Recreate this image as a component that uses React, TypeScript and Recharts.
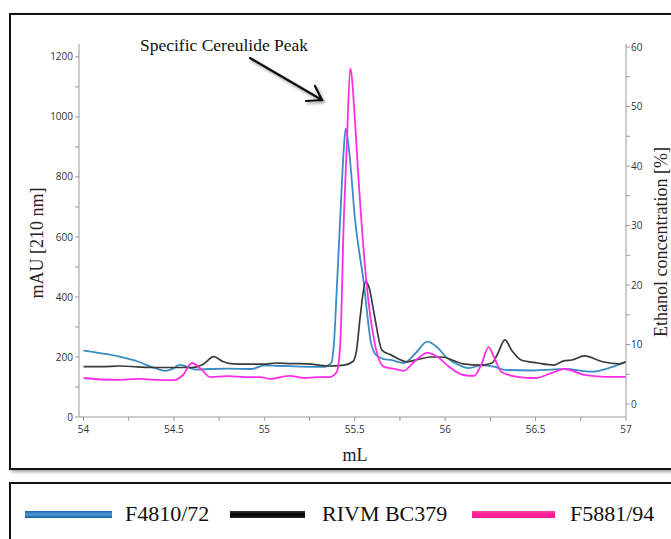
import React from "react"
import {
  LineChart,
  Line,
  XAxis,
  YAxis,
} from "recharts"

// F4810/72 (blue)
const blueMl = [
  54.0, 54.1, 54.2, 54.3, 54.35, 54.4, 54.45, 54.5, 54.53, 54.57, 54.62, 54.7, 54.8, 54.93, 55.0,
  55.1, 55.2, 55.33, 55.37, 55.385, 55.4, 55.42, 55.44, 55.45, 55.47, 55.5, 55.55, 55.59, 55.62,
  55.66, 55.7, 55.77, 55.84, 55.9, 55.96, 56.01, 56.07, 56.13, 56.2, 56.27, 56.33, 56.48, 56.58,
  56.66, 56.81, 56.92, 57.0,
]
const blueMau = [
  221, 212, 201, 185, 173, 162, 154, 163, 174, 168, 158, 160, 161, 160, 172,
  170, 168, 167, 180, 247, 420, 668, 900, 962, 880, 668, 446, 247, 205,
  193, 190, 180, 215, 251, 230, 197, 175, 163, 172, 168, 157, 155, 158,
  160, 151, 166, 184,
]

// RIVM BC379 (black)
const blackMl = [
  54.0, 54.1, 54.2, 54.3, 54.4, 54.5, 54.6, 54.66, 54.72, 54.77, 54.83, 54.9, 55.0, 55.06, 55.15,
  55.24, 55.35, 55.44, 55.49, 55.51, 55.53, 55.56, 55.58, 55.61, 55.65, 55.7, 55.79, 55.85, 55.92,
  55.98, 56.1, 56.2, 56.26, 56.29, 56.33, 56.37, 56.42, 56.51, 56.6, 56.66, 56.7, 56.77, 56.87,
  56.96, 57.0,
]
const blackMau = [
  168, 168, 170, 167, 165, 165, 165, 175, 201, 185, 177, 176, 176, 180, 178,
  177, 170, 173, 185, 223, 334, 451, 430, 334, 223, 207, 184, 192, 200,
  200, 177, 173, 180, 210, 257, 220, 190, 180, 173, 188, 190, 204, 184,
  177, 184,
]

// F5881/94 (pink)
const pinkMl = [
  54.0, 54.1, 54.2, 54.3, 54.4, 54.5, 54.55, 54.6, 54.65, 54.7, 54.8, 54.9, 54.98, 55.03, 55.14,
  55.22, 55.29, 55.36, 55.4, 55.42, 55.44, 55.455, 55.475, 55.5, 55.52, 55.535, 55.565, 55.61,
  55.66, 55.72, 55.77, 55.83, 55.9, 55.96, 56.01, 56.1, 56.16, 56.2, 56.24, 56.27, 56.31, 56.4,
  56.5, 56.59, 56.66, 56.77, 56.88, 57.0,
]
const pinkMau = [
  130, 125, 124, 127, 124, 123, 140, 180, 160, 133, 136, 133, 133, 127, 137,
  130, 133, 133, 150, 247, 668, 890, 1162, 1000, 800, 668, 446, 247,
  168, 160, 154, 185, 214, 200, 173, 140, 137, 175, 233, 200, 151, 134,
  130, 147, 160, 140, 134, 134,
]

const xTicks = [54, 54.25, 54.5, 54.75, 55, 55.25, 55.5, 55.75, 56, 56.25, 56.5, 56.75, 57]
const leftTicks = [0, 100, 200, 300, 400, 500, 600, 700, 800, 900, 1000, 1100, 1200]
const rightTicks = [0, 5, 10, 15, 20, 25, 30, 35, 40, 45, 50, 55, 60]

const seriesNames = ["F4810/72", "RIVM BC379", "F5881/94"]
const lineColors = ["#3a8cc5", "#3a3a3a", "#ff2ee6"]

const toPoints = (xs: number[], ys: number[]) => xs.map((x, i) => ({ x, y: ys[i] }))

const blueData = toPoints(blueMl, blueMau)
const blackData = toPoints(blackMl, blackMau)
const pinkData = toPoints(pinkMl, pinkMau)

const serif = "'Liberation Serif', 'DejaVu Serif', serif"
const tickStyle = { fontSize: 10, fill: "#333", fontFamily: "'Open Sans', sans-serif" }
const axisColor = "#9a9a9a"

const legendBars = [
  "linear-gradient(#2566a8, #4a9ad8 50%, #1d5c9c)",
  "linear-gradient(#333, #000 50%, #222)",
  "linear-gradient(#ff4aa8, #ff1a90 50%, #f0208e)",
]

export default function App() {
  return (
    <div
      style={{
        position: "absolute",
        left: 0,
        top: 0,
        width: 671,
        height: 539,
        overflow: "hidden",
        background: "#fff",
      }}
    >
      {/* chart frame */}
      <div
        style={{
          position: "absolute",
          left: 9,
          top: 13,
          width: 720,
          height: 457,
          boxSizing: "border-box",
          border: "2px solid #111",
          boxShadow: "2px 2px 3px rgba(0,0,0,0.35)",
        }}
      />

      <div style={{ position: "absolute", left: 0, top: 0 }}>
        <LineChart
          width={671}
          height={539}
          margin={{ top: 44, right: 0, bottom: 92, left: 0 }}
        >
          <XAxis
            type="number"
            dataKey="x"
            domain={[53.975, 57]}
            allowDataOverflow
            ticks={xTicks}
            interval={0}
            tickFormatter={(v: number) => (Math.round(v * 100) % 50 === 0 ? String(v) : "")}
            tick={tickStyle}
            tickSize={4}
            tickMargin={5}
            stroke={axisColor}
            height={30}
            label={{
              content: () => (
                <text x={355} y={455} textAnchor="middle" dominantBaseline="central"
                  style={{ fontFamily: serif, fontSize: 18, fill: "#222" }}>
                  mL
                </text>
              ),
            }}
          />
          <YAxis
            yAxisId="left"
            orientation="left"
            type="number"
            domain={[0, 1243]}
            allowDataOverflow
            ticks={leftTicks}
            interval={0}
            tickFormatter={(v: number) => (v % 200 === 0 ? String(v) : "")}
            tick={tickStyle}
            tickSize={4}
            tickMargin={2}
            stroke={axisColor}
            width={79}
            label={{
              content: () => (
                <text x={37} y={243} transform="rotate(-90 37 243)" textAnchor="middle"
                  dominantBaseline="central" style={{ fontFamily: serif, fontSize: 18, fill: "#222" }}>
                  mAU [210 nm]
                </text>
              ),
            }}
          />
          <YAxis
            yAxisId="right"
            orientation="right"
            type="number"
            domain={[-2.18, 60.5]}
            allowDataOverflow
            ticks={rightTicks}
            interval={0}
            tickFormatter={(v: number) => (v % 10 === 0 ? String(v) : "")}
            tick={tickStyle}
            tickSize={4}
            tickMargin={1}
            stroke={axisColor}
            width={45}
            label={{
              content: () => (
                <text x={661} y={242} transform="rotate(-90 661 242)" textAnchor="middle"
                  dominantBaseline="central" style={{ fontFamily: serif, fontSize: 18, fill: "#222" }}>
                  Ethanol concentration [%]
                </text>
              ),
            }}
          />
          <Line yAxisId="left" data={blueData} dataKey="y" type="monotone" stroke={lineColors[0]}
            strokeWidth={1.8} dot={false} isAnimationActive={false} />
          <Line yAxisId="left" data={blackData} dataKey="y" type="monotone" stroke={lineColors[1]}
            strokeWidth={1.7} dot={false} isAnimationActive={false} />
          <Line yAxisId="left" data={pinkData} dataKey="y" type="monotone" stroke={lineColors[2]}
            strokeWidth={1.8} dot={false} isAnimationActive={false} />
        </LineChart>
      </div>

      {/* annotation */}
      <svg width={671} height={539} style={{ position: "absolute", left: 0, top: 0, pointerEvents: "none" }}>
        <defs>
          <filter id="shadow" x="-20%" y="-20%" width="140%" height="140%">
            <feDropShadow dx="1.5" dy="2" stdDeviation="1.5" floodOpacity="0.4" />
          </filter>
        </defs>
        <text x={224} y={45} textAnchor="middle" dominantBaseline="central"
          style={{ fontFamily: serif, fontSize: 17.5, fill: "#111" }}>
          Specific Cereulide Peak
        </text>
        <g filter="url(#shadow)" stroke="#111" strokeWidth={2.2} fill="none" strokeLinecap="round">
          <line x1={250} y1={58} x2={322} y2={100} />
          <polyline points="306,101 322,100 315,86" />
        </g>
      </svg>

      {/* legend frame */}
      <div
        style={{
          position: "absolute",
          left: 9,
          top: 482,
          width: 720,
          height: 100,
          boxSizing: "border-box",
          border: "2px solid #111",
          boxShadow: "2px 2px 3px rgba(0,0,0,0.35)",
        }}
      />
      {[
        { bar: [25, 112], text: 125 },
        { bar: [230, 305], text: 322 },
        { bar: [472, 555], text: 570 },
      ].map((it, i) => (
        <React.Fragment key={seriesNames[i]}>
          <div
            style={{
              position: "absolute",
              left: it.bar[0],
              top: 511,
              width: it.bar[1] - it.bar[0],
              height: 7,
              background: legendBars[i],
            }}
          />
          <div
            style={{
              position: "absolute",
              left: it.text,
              top: 514,
              transform: "translateY(-50%)",
              fontFamily: serif,
              fontSize: 22,
              color: "#111",
              whiteSpace: "nowrap",
              lineHeight: 1,
            }}
          >
            {seriesNames[i]}
          </div>
        </React.Fragment>
      ))}
    </div>
  )
}
